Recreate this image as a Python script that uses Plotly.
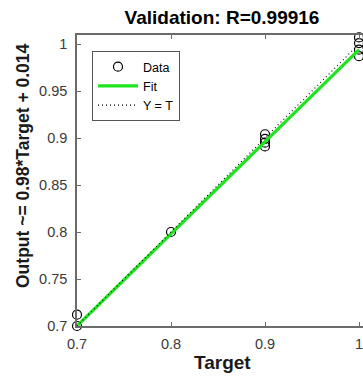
import plotly.graph_objects as go

# ---- data ----
targets = [0.7, 0.7, 0.8, 0.9, 0.9, 0.9, 0.9, 1.0, 1.0, 1.0, 1.0, 1.0]
outputs = [0.700, 0.712, 0.800, 0.891, 0.895, 0.899, 0.904, 0.987, 0.994, 1.001, 1.007, 1.013]
fit_slope = 0.98
fit_offset = 0.014
line_x = [0.7, 1.0]
x_ticks = [0.7, 0.8, 0.9, 1.0]
x_tick_labels = ["0.7", "0.8", "0.9", "1"]
y_ticks = [0.7, 0.75, 0.8, 0.85, 0.9, 0.95, 1.0]
y_tick_labels = ["0.7", "0.75", "0.8", "0.85", "0.9", "0.95", "1"]
title_text = "Validation: R=0.99916"
x_label = "Target"
y_label = "Output ~= 0.98*Target + 0.014"

fit_y = [fit_slope * v + fit_offset for v in line_x]

FONT = "Liberation Sans, Arial, sans-serif"
W, H = 363, 378
L, R, T, B = 77, 0, 35, 52

fig = go.Figure()
fig.add_trace(go.Scatter(
    x=targets, y=outputs, mode="markers", name="Data",
    marker=dict(symbol="circle-open", size=9, color="black", line=dict(width=1.2, color="black")),
    cliponaxis=False,
))
fig.add_trace(go.Scatter(
    x=line_x, y=fit_y, mode="lines", name="Fit",
    line=dict(color="rgb(30,228,30)", width=3.2), cliponaxis=False,
))
fig.add_trace(go.Scatter(
    x=line_x, y=line_x, mode="lines", name="Y = T",
    line=dict(color="black", width=1.1, dash="1px,3px"), cliponaxis=False,
))
# helper trace for the top (mirrored) axis
fig.add_trace(go.Scatter(x=line_x, y=line_x, xaxis="x2", mode="lines",
                         line=dict(width=0), showlegend=False, hoverinfo="skip"))

xrange = [0.7, 0.7 + 286 / 940]
yrange = [0.7, 0.7 + 291 / 940]
axis_col = "#6b6b6b"
tick_font = dict(family=FONT, size=14.5, color="#3a3a3a")

fig.update_layout(
    width=W, height=H,
    margin=dict(l=L, r=R, t=T, b=B, pad=0),
    paper_bgcolor="white", plot_bgcolor="white",
    showlegend=True,
    xaxis=dict(range=xrange, tickvals=x_ticks, ticktext=x_tick_labels,
               ticks="inside", ticklen=4, tickcolor=axis_col, tickwidth=1,
               showline=True, linecolor=axis_col, linewidth=1.5,
               showgrid=False, zeroline=False, tickfont=tick_font,
               ticklabelstandoff=4, ticklabeloverflow="allow"),
    xaxis2=dict(range=xrange, overlaying="x", side="top", anchor="y",
                tickvals=x_ticks, showticklabels=False,
                ticks="inside", ticklen=4, tickcolor=axis_col, tickwidth=1,
                showline=True, linecolor=axis_col, linewidth=1.5,
                showgrid=False, zeroline=False),
    yaxis=dict(range=yrange, tickvals=y_ticks, ticktext=y_tick_labels,
               ticks="inside", ticklen=4, tickcolor=axis_col, tickwidth=1,
               showline=True, linecolor=axis_col, linewidth=1.5,
               showgrid=False, zeroline=False, tickfont=tick_font,
               ticklabelstandoff=5, ticklabeloverflow="allow"),
    title=dict(text="<b>" + title_text + "</b>", xref="paper", x=0.507, xanchor="center",
               yref="container", y=1 - 17 / H, yanchor="middle",
               font=dict(family=FONT, size=19, color="black")),
    legend=dict(x=15 / 286, y=1 - 16 / 291, xanchor="left", yanchor="top",
                bgcolor="white", bordercolor="#555", borderwidth=1,
                font=dict(family=FONT, size=12.5, color="black"),
                itemwidth=40, tracegroupgap=0),
    annotations=[
        dict(text="<b>" + x_label + "</b>", xref="paper", yref="paper",
             x=(222 - L) / 286, y=-(362 - 326) / 291, xanchor="center", yanchor="middle",
             showarrow=False, font=dict(family=FONT, size=19, color="#1a1a1a")),
        dict(text="<b>" + y_label + "</b>", xref="paper", yref="paper",
             x=-(L - 23) / 286, y=(326 - 166) / 291, xanchor="center", yanchor="middle",
             textangle=-90, showarrow=False,
             font=dict(family=FONT, size=17.5, color="#1a1a1a")),
    ],
)

fig.write_html("out.html")
